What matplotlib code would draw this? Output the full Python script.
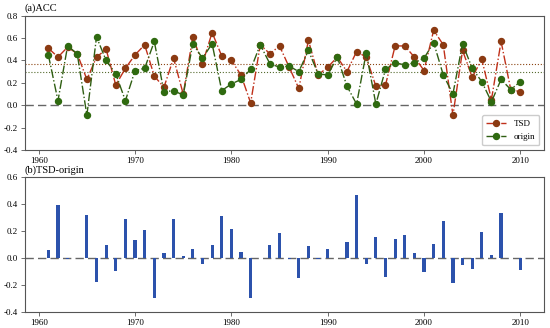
import numpy as np
import matplotlib.pyplot as plt

plt.rcParams['font.family'] = ['Liberation Serif', 'DejaVu Serif']

years = np.arange(1961, 2011)

tsd = [0.51, 0.43, 0.52, 0.46, 0.23, 0.43, 0.50, 0.18, 0.33, 0.45,
       0.54, 0.26, 0.16, 0.42, 0.10, 0.61, 0.37, 0.65, 0.44, 0.40,
       0.27, 0.02, 0.54, 0.46, 0.53, 0.34, 0.15, 0.58, 0.27, 0.34,
       0.43, 0.30, 0.48, 0.43, 0.17, 0.18, 0.53, 0.53, 0.43, 0.31,
       0.67, 0.54, -0.09, 0.49, 0.25, 0.41, 0.05, 0.57, 0.14, 0.12]

origin = [0.45, 0.04, 0.53, 0.46, -0.09, 0.61, 0.40, 0.28, 0.04, 0.31,
          0.33, 0.57, 0.12, 0.13, 0.09, 0.55, 0.42, 0.55, 0.13, 0.19,
          0.23, 0.32, 0.54, 0.37, 0.34, 0.35, 0.30, 0.49, 0.28, 0.27,
          0.43, 0.17, 0.01, 0.47, 0.01, 0.32, 0.38, 0.36, 0.38, 0.42,
          0.56, 0.27, 0.10, 0.55, 0.33, 0.21, 0.03, 0.23, 0.14, 0.21]

diff = [0.057, 0.397, -0.01, 0.0, 0.32, -0.18, 0.097, -0.10, 0.288, 0.13,
        0.206, -0.30, 0.04, 0.288, 0.017, 0.065, -0.047, 0.10, 0.31, 0.213,
        0.042, -0.298, 0.0, 0.094, 0.186, -0.007, -0.146, 0.087, -0.01, 0.067,
        0.0, 0.12, 0.47, -0.042, 0.156, -0.141, 0.14, 0.169, 0.04, -0.107,
        0.104, 0.275, -0.186, -0.055, -0.085, 0.196, 0.022, 0.335, 0.002, -0.092]

sig_hi = 0.37
sig_lo = 0.30

fig = plt.figure(figsize=(5.5, 3.28), dpi=100)
ax1 = fig.add_axes([0.045, 0.543, 0.944, 0.409])
ax2 = fig.add_axes([0.045, 0.050, 0.944, 0.409])

spine_c = '#555555'
for ax in (ax1, ax2):
    for s in ax.spines.values():
        s.set_color(spine_c)
        s.set_linewidth(0.8)
    ax.tick_params(labelsize=6.5, length=3, width=0.6, color=spine_c, pad=2)
    ax.set_xticks([1960, 1970, 1980, 1990, 2000, 2010])
    ax.axhline(0, color='#666666', ls=(0, (6, 3)), lw=1.0, zorder=1)

ax1.plot(years, tsd, ls='-.', color='#c0301a', lw=1.0, marker='o', ms=4.3,
         mfc='#8b3a12', mec='#8b3a12', label='TSD', zorder=3)
ax1.plot(years, origin, ls='-.', color='#2f5e12', lw=1.0, marker='o', ms=4.3,
         mfc='#2f6a10', mec='#2f6a10', label='origin', zorder=3)
ax1.axhline(sig_hi, color='#8b4513', ls=':', lw=0.8, zorder=2)
ax1.axhline(sig_lo, color='#556b2f', ls=':', lw=0.8, zorder=2)
ax1.set_ylim(-0.4, 0.8)
ax1.set_yticks(np.arange(-0.4, 0.81, 0.2))
ax1.set_yticklabels(['-0.4', '-0.2', '0.0', '0.2', '0.4', '0.6', '0.8'])
ax1.set_xlim(1958.55, 2012.45)
ax1.text(0.0, 1.02, '(a)ACC', transform=ax1.transAxes, fontsize=7.5, va='bottom')
ax1.legend(loc='lower right', fontsize=6.5, handlelength=2.2, borderpad=0.5,
           labelspacing=0.5, framealpha=1, edgecolor='#cccccc')

ax2.bar(years, diff, width=0.33, color='#2c52ac', zorder=2)
ax2.set_ylim(-0.4, 0.6)
ax2.set_yticks(np.arange(-0.4, 0.61, 0.2))
ax2.set_yticklabels(['-0.4', '-0.2', '0.0', '0.2', '0.4', '0.6'])
ax2.set_xlim(1958.55, 2012.45)
ax2.text(0.0, 1.02, '(b)TSD-origin', transform=ax2.transAxes, fontsize=7.5, va='bottom')

fig.savefig('out.png', dpi=100)
